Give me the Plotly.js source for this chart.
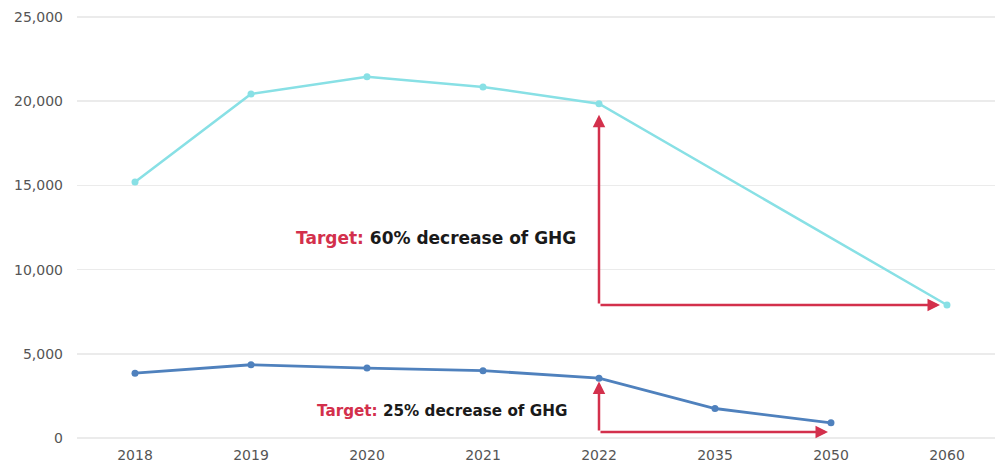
<!DOCTYPE html>
<html>
<head>
<meta charset="utf-8">
<script src="https://cdn.plot.ly/plotly-3.0.1.min.js"></script>
<style>html,body{margin:0;padding:0;background:#fff;}#chart{width:995px;height:465px;}</style>
</head>
<body>
<div id="chart"></div>
<script>
const categories = ["2018", "2019", "2020", "2021", "2022", "2035", "2050", "2060"];
const upperYears = ["2018", "2019", "2020", "2021", "2022", "2060"];
const upperValues = [15200, 20430, 21450, 20850, 19850, 7900];
const lowerYears = ["2018", "2019", "2020", "2021", "2022", "2035", "2050"];
const lowerValues = [3850, 4350, 4150, 4000, 3550, 1750, 900];
const yTicks = [0, 5000, 10000, 15000, 20000, 25000];
const upperTargetText = '<span style="color:#d3304c">Target:</span> 60% decrease of GHG';
const lowerTargetText = '<span style="color:#d3304c">Target:</span> 25% decrease of GHG';

const red = "#d3304c";
const font = "'DejaVu Sans', sans-serif";
const idx = c => categories.indexOf(c);

const traces = [
  {x: upperYears, y: upperValues, type: "scatter", mode: "lines+markers",
   line: {color: "#88e0e5", width: 2.5}, marker: {color: "#88e0e5", size: 7}, hoverinfo: "x+y"},
  {x: lowerYears, y: lowerValues, type: "scatter", mode: "lines+markers",
   line: {color: "#4f81bd", width: 2.8}, marker: {color: "#4f81bd", size: 7}, hoverinfo: "x+y"}
];

function arrow(x, y, ax, ay, standoff) {
  return {x: idx(x), y: y, ax: idx(ax), ay: ay, xref: "x", yref: "y", axref: "x", ayref: "y",
    text: "", showarrow: true, arrowhead: 2, arrowsize: 1, arrowwidth: 2.5, arrowcolor: red,
    standoff: standoff || 0, startstandoff: 0};
}

const layout = {
  width: 995, height: 465,
  margin: {l: 77, r: 0, t: 15, b: 25},
  paper_bgcolor: "#fff", plot_bgcolor: "#fff",
  showlegend: false,
  font: {family: font, color: "#555", size: 14},
  xaxis: {type: "category", categoryorder: "array", categoryarray: categories,
    range: [-0.5, 7.414], showgrid: false, zeroline: false, showline: false,
    ticks: "", ticklabelstandoff: 5, tickfont: {size: 14, color: "#555"}, fixedrange: true},
  yaxis: {range: [-120, 25120], tickvals: yTicks, tickformat: ",d",
    showgrid: true, gridcolor: "#ebebeb", gridwidth: 1.5, zeroline: false, showline: false,
    ticks: "", ticklabelstandoff: 13, tickfont: {size: 14, color: "#555"}, fixedrange: true},
  annotations: [
    arrow("2022", 19200, "2022", 7900),
    arrow("2060", 7900, "2022", 7900, 7),
    arrow("2022", 3350, "2022", 350),
    arrow("2050", 350, "2022", 350, 3),
    {x: idx("2022"), y: 11900, xref: "x", yref: "y", xanchor: "right", yanchor: "middle", xshift: -21,
     showarrow: false, text: "<b>" + upperTargetText + "</b>", font: {family: font, size: 17, color: "#1a1a1a"}},
    {x: idx("2022"), y: 1600, xref: "x", yref: "y", xanchor: "right", yanchor: "middle", xshift: -30,
     showarrow: false, text: "<b>" + lowerTargetText + "</b>", font: {family: font, size: 15.2, color: "#1a1a1a"}}
  ]
};

Plotly.newPlot("chart", traces, layout, {displayModeBar: false, staticPlot: true});
</script>
</body>
</html>
